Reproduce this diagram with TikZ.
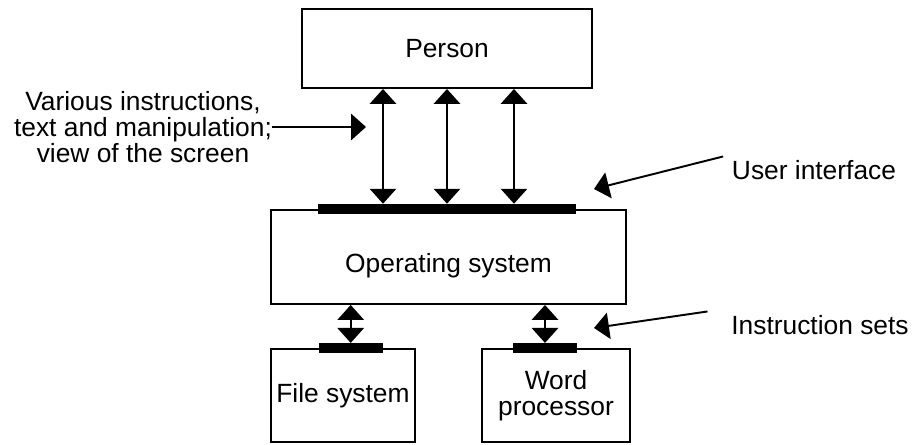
\documentclass[tikz,border=0pt]{standalone}
\usepackage{fontspec}
\setmainfont{Liberation Sans}
\usetikzlibrary{arrows.meta, calc}

\begin{document}
\begin{tikzpicture}[
  x=0.02cm, y=-0.02cm,
  font=\fontsize{15}{14.7}\selectfont,
  box/.style={rectangle, draw, line width=1.1pt, align=center, inner sep=1pt},
  bar/.style={rectangle, fill=black, inner sep=0pt, minimum height=0.19cm},
  io/.style={{Triangle[length=8.5pt, width=15pt]}-{Triangle[length=8.5pt, width=15pt]}, line width=1.1pt},
  ptr/.style={-{Triangle[length=8.5pt, width=15pt]}, line width=1.1pt},
  note/.style={align=center, inner sep=2pt}
]
\useasboundingbox (0,0) rectangle (913,444);

% Boxes
\node[box, minimum width=5.8cm, minimum height=1.58cm] (person) at (447,48.5) {Person};
\node[box, minimum width=7.1cm, minimum height=1.88cm] (os) at (448.5,257) {};
\node (ostext) at ([yshift=-0.18cm]os.center) {Operating system};
\node[box, minimum width=2.88cm, minimum height=1.86cm] (fs) at (343,395.5) {File system};
\node[box, minimum width=2.95cm, minimum height=1.86cm] (wp) at (556,395.5) {Word\\processor};

% Interface bars
\node[bar, minimum width=5.16cm] (uibar) at (447,208.8) {};
\node[bar, minimum width=1.28cm] (fsbar) at (350.7,348) {};
\node[bar, minimum width=1.27cm] (wpbar) at (545,348) {};

% Two-way links
\foreach \dx in {-64,0,67}
  \draw[io] ($(person.south)+(\dx,0)$) -- ($(uibar.north)+(\dx,0)$);
\draw[io] (os.south -| fsbar.north) -- (fsbar.north);
\draw[io] (os.south -| wpbar.north) -- (wpbar.north);

% Annotations
\node[note, inner sep=0pt] (instr) at (143,127) {Various instructions,\\text and manipulation;\\view of the screen};
\coordinate (instrtip) at (366,127);
\draw[ptr] (instr.east) -- (instrtip);

\node[note] (ui) at (814,170) {User interface};
\coordinate (uitip) at (594,189);
\draw[ptr] ([xshift=-0.1cm]ui.north west) -- (uitip);

\node[note] (isets) at (820,325) {Instruction sets};
\coordinate (isetstip) at (594,328);
\draw[ptr] ([xshift=-0.4cm]isets.north west) -- (isetstip);

\end{tikzpicture}
\end{document}
